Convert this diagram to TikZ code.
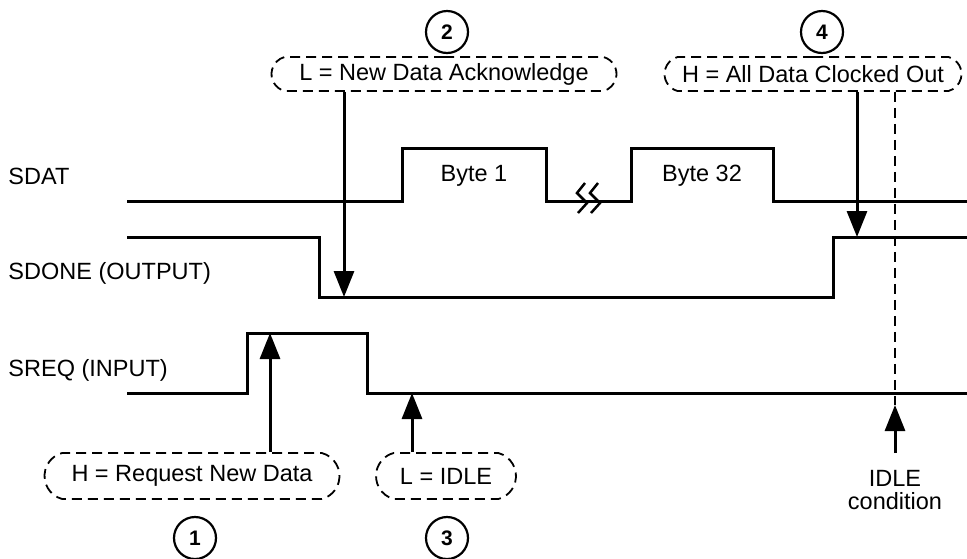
\documentclass[tikz,border=0pt]{standalone}
\usepackage{fontspec}
\setmainfont{Liberation Sans}
\usetikzlibrary{arrows.meta,shapes.misc}

\begin{document}
\begin{tikzpicture}[x=1pt, y=-1pt, line width=3pt,
    every node/.style={font=\fontsize{23.5}{24}\selectfont, inner sep=0pt},
    note/.style={draw, rounded rectangle, rounded rectangle arc length=150, line width=1.8pt, dash pattern=on 10pt off 6pt},
    stepno/.style={draw, circle, line width=2.2pt, minimum size=42pt, font=\fontsize{21}{21}\selectfont\bfseries},
    marker/.style={-{Triangle[length=26pt,width=20pt]}, line width=3pt}]

    \useasboundingbox (0,0) rectangle (967,558);

    % Draw signal names
    \node[anchor=west] (sdat) at (7,176) {SDAT};
    \node[anchor=west] (sdone) at (7,273) {SDONE (OUTPUT)};
    \node[anchor=west] (sreq) at (7,370) {SREQ (INPUT)};

    % Draw the SDAT line with the bytes
    \draw (127,201) -- (402,201) -- (402,148) -- (546,148) -- (546,201)
        -- (631,201) -- (631,148) -- (773,148) -- (773,201) -- (967,201);
    \node (byte1) at (474,176) {Byte 1};
    \node (byte32) at (702,176) {Byte 32};

    % Draw the break marks
    \foreach \x in {583,596}
        \draw[line width=2.5pt] (\x+2,183) -- (\x-6,193) -- (\x+4,203) -- (\x-5,213);

    % Draw SDONE and SREQ
    \draw (127,237) -- (319,237) -- (319,297) -- (833,297) -- (833,237) -- (967,237);
    \draw (127,393) -- (247,393) -- (247,333) -- (367,333) -- (367,393) -- (967,393);

    % Points the arrows go to
    \coordinate (req) at (270,333);
    \coordinate (ack) at (344,297);
    \coordinate (idle) at (412,393);
    \coordinate (out) at (857,237);
    \coordinate (idlecond) at (895,405);

    % Draw notes
    \node[note, minimum width=345pt, minimum height=34pt] (n2) at (444,74) {L = New Data Acknowledge};
    \node[note, minimum width=297pt, minimum height=34pt] (n4) at (813,74) {H = All Data Clocked Out};
    \node[note, minimum width=295pt, minimum height=46pt] (n1) at (192,476) {H = Request New Data};
    \node[note, minimum width=140pt, minimum height=46pt] (n3) at (446,476) {L = IDLE};
    \node[align=center, anchor=north] (cond) at (895,469) {IDLE\\[-1pt]condition};

    % Draw step numbers
    \node[stepno] (s1) at (195,538) {1};
    \node[stepno] (s2) at (447,32) {2};
    \node[stepno] (s3) at (447,538) {3};
    \node[stepno] (s4) at (822,32) {4};

    % Draw arrows
    \draw[marker] (n1.north -| req) -- (req);
    \draw[marker] (n2.south -| ack) -- (ack);
    \draw[marker] (n3.north -| idle) -- (idle);
    \draw[marker] (n4.south -| out) -- (out);
    \draw[marker] ([yshift=16pt]cond.north) -- (idlecond);
    \draw[line width=1.8pt, dash pattern=on 10pt off 6pt] (n4.south -| idlecond) -- (idlecond);

\end{tikzpicture}
\end{document}
